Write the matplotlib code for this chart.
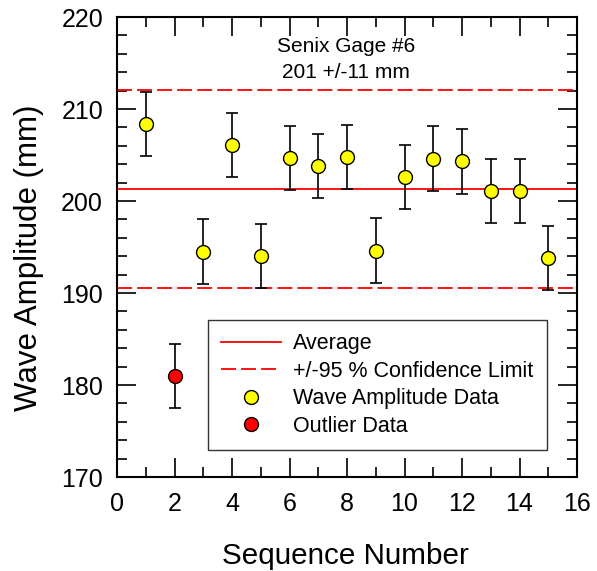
import matplotlib
matplotlib.use("Agg")
import matplotlib.pyplot as plt
from matplotlib.ticker import MultipleLocator

plt.rcParams['font.family'] = ['Liberation Sans', 'DejaVu Sans']

# data
seq = [1, 3, 4, 5, 6, 7, 8, 9, 10, 11, 12, 13, 14, 15]
amp = [208.4, 194.5, 206.1, 194.0, 204.7, 203.8, 204.8, 194.6, 202.6, 204.6, 204.3, 201.1, 201.1, 193.8]
outlier_seq = [2]
outlier_amp = [181.0]
err = 3.5
average = 201.3
upper_limit = 212.1
lower_limit = 190.5

fig = plt.figure(figsize=(5.97, 5.71), dpi=100)
ax = fig.add_axes([0.196, 0.1646, 0.7705, 0.8056])

dash = (0, (8.3, 2.8))
ax.axhline(average, color='red', lw=1.3, label='Average')
ax.axhline(upper_limit, color='red', lw=1.3, ls=dash, label='+/-95 % Confidence Limit')
ax.axhline(lower_limit, color='red', lw=1.3, ls=dash)

ax.errorbar(seq, amp, yerr=err, fmt='none', ecolor='black', elinewidth=1.2, capsize=4, capthick=1.2)
ax.plot(seq, amp, 'o', ms=10, mfc='yellow', mec='black', mew=1.0, label='Wave Amplitude Data')
ax.errorbar(outlier_seq, outlier_amp, yerr=err, fmt='none', ecolor='black', elinewidth=1.2, capsize=4, capthick=1.2)
ax.plot(outlier_seq, outlier_amp, 'o', ms=10, mfc='red', mec='black', mew=1.0, label='Outlier Data')

ax.set_xlim(0, 16)
ax.set_ylim(170, 220)
ax.xaxis.set_major_locator(MultipleLocator(2))
ax.xaxis.set_minor_locator(MultipleLocator(1))
ax.yaxis.set_major_locator(MultipleLocator(10))
ax.yaxis.set_minor_locator(MultipleLocator(2))
ax.tick_params(which='both', direction='in', top=True, right=True, labelsize=18, width=1.2)
ax.tick_params(axis='x', which='major', length=14, pad=11)
ax.tick_params(axis='y', which='major', length=14, pad=10)
ax.tick_params(which='minor', length=7)
for s in ax.spines.values():
    s.set_linewidth(1.5)

ax.set_xlabel('Sequence Number', fontsize=21.3, va='center')
ax.set_ylabel('Wave Amplitude (mm)', fontsize=22.5, va='center')
ax.xaxis.set_label_coords(0.496, -0.172)
ax.yaxis.set_label_coords(-0.192, 0.476)

ax.text(0.497, 0.957, 'Senix Gage #6\n201 +/-11 mm', transform=ax.transAxes,
        ha='center', va='top', fontsize=15, linespacing=1.5)

leg = ax.legend(loc='lower left', bbox_to_anchor=(0.197, 0.059), borderaxespad=0,
                fontsize=15.5, frameon=True, fancybox=False, edgecolor='black',
                handlelength=2.8, borderpad=0.62, labelspacing=0.30, handletextpad=0.55)
leg.get_frame().set_linewidth(1.0)

fig.savefig('out.png', dpi=100)
